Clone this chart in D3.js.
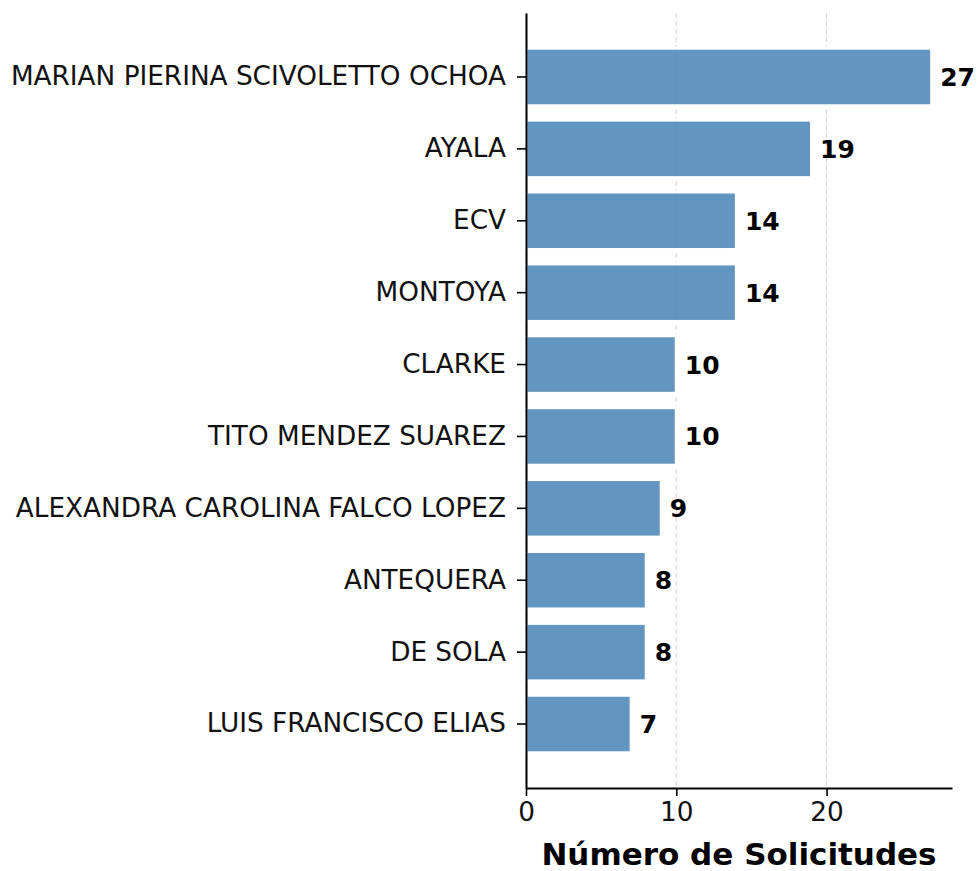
<!DOCTYPE html>
<html>
<head>
<meta charset="utf-8">
<script src="https://cdn.jsdelivr.net/npm/d3@7"></script>
<style>
  body { margin: 0; background: #fff; }
  svg text { font-family: "DejaVu Sans", sans-serif; }
</style>
</head>
<body>
<div id="chart"></div>
<script>
const names = [
  "MARIAN PIERINA SCIVOLETTO OCHOA",
  "AYALA",
  "ECV",
  "MONTOYA",
  "CLARKE",
  "TITO MENDEZ SUAREZ",
  "ALEXANDRA CAROLINA FALCO LOPEZ",
  "ANTEQUERA",
  "DE SOLA",
  "LUIS FRANCISCO ELIAS"
];
const counts = [27, 19, 14, 14, 10, 10, 9, 8, 8, 7];
const xTicks = [0, 10, 20];
const xLabel = "Número de Solicitudes";

const width = 977;
const height = 871;
const margin = { top: 13, left: 526, bottom: 83, right: 25 };
const plotWidth = width - margin.left - margin.right;
const plotHeight = height - margin.top - margin.bottom;

const data = names.map((n, i) => ({ name: n, value: counts[i] }));

const xScale = d3
  .scaleLinear()
  .domain([0, d3.max(counts) * 1.05])
  .range([0, plotWidth]);

const yScale = d3
  .scaleBand()
  .domain(names)
  .range([0, plotHeight])
  .paddingInner(0.2)
  .paddingOuter(0.49);

const svg = d3
  .select("#chart")
  .append("svg")
  .attr("width", width)
  .attr("height", height);

const plotG = svg
  .append("g")
  .attr("transform", `translate(${margin.left},${margin.top})`);

// dashed vertical grid
plotG
  .selectAll("line.grid")
  .data(xTicks)
  .enter()
  .append("line")
  .attr("class", "grid")
  .attr("x1", d => xScale(d))
  .attr("x2", d => xScale(d))
  .attr("y1", 0)
  .attr("y2", plotHeight)
  .attr("stroke", "#d9d9d9")
  .attr("stroke-width", 1.2)
  .attr("stroke-dasharray", "5,3");

plotG
  .selectAll("rect")
  .data(data)
  .enter()
  .append("rect")
  .attr("x", 0)
  .attr("y", d => yScale(d.name))
  .attr("width", d => xScale(d.value))
  .attr("height", yScale.bandwidth())
  .attr("fill", "#4682b4")
  .attr("fill-opacity", 0.85)
  .attr("stroke", "#ffffff")
  .attr("stroke-width", 3);

plotG
  .selectAll("text.val")
  .data(data)
  .enter()
  .append("text")
  .attr("class", "val")
  .attr("x", d => xScale(d.value + 0.5) + 1)
  .attr("y", d => yScale(d.name) + yScale.bandwidth() / 2)
  .attr("dy", "0.36em")
  .attr("font-size", 25)
  .attr("font-weight", "bold")
  .attr("fill", "#000")
  .text(d => d.value);

const xAxis = d3.axisBottom(xScale).tickValues(xTicks).tickSize(8).tickPadding(6).tickSizeOuter(0);
const yAxis = d3.axisLeft(yScale).tickSize(9).tickPadding(11).tickSizeOuter(0);

const xAxisG = plotG
  .append("g")
  .attr("transform", `translate(0,${plotHeight})`)
  .call(xAxis);

const yAxisG = plotG.append("g").call(yAxis);

[xAxisG, yAxisG].forEach(g => {
  g.selectAll("path.domain").attr("stroke", "#000").attr("stroke-width", 2);
  g.selectAll(".tick line").attr("stroke", "#000").attr("stroke-width", 1.6);
  g.selectAll(".tick text")
    .attr("font-family", "DejaVu Sans")
    .attr("font-size", 26.3)
    .attr("fill", "#111");
});

svg
  .append("text")
  .attr("x", margin.left + plotWidth / 2)
  .attr("y", 865)
  .attr("text-anchor", "middle")
  .attr("font-size", 31)
  .attr("font-weight", "bold")
  .attr("fill", "#000")
  .text(xLabel);
</script>
</body>
</html>
